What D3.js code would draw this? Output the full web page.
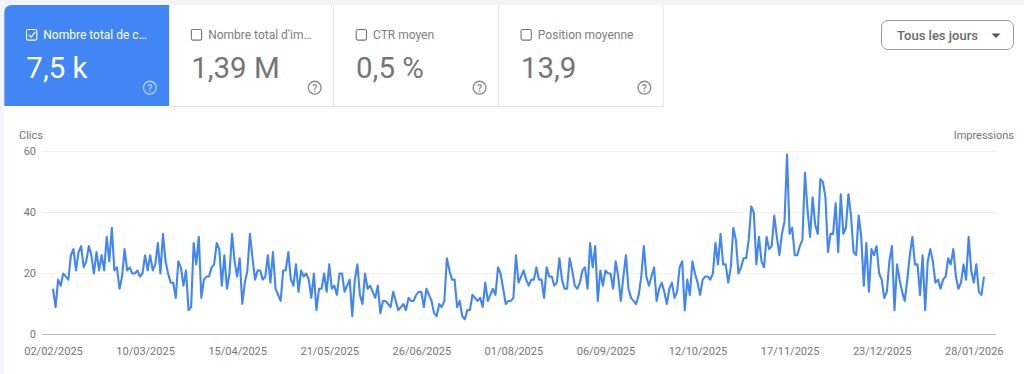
<!DOCTYPE html>
<html lang="fr">
<head>
<meta charset="utf-8">
<title>Performances</title>
<script src="https://cdn.jsdelivr.net/npm/d3@7/dist/d3.min.js"></script>
<style>
  html, body { margin: 0; padding: 0; background: #fff; }
  svg { display: block; font-family: Roboto, sans-serif; }
  .tick text { font-family: Roboto, sans-serif; }
</style>
</head>
<body>
<div id="chart"></div>
<script>
// Daily clicks, from 02/02/2025 to 01/02/2026
const startDate = '2025-02-02';
const clicks = [
  15,9,18,16,20,19,18,26,28,21,27,29,22,24,29,26,20,27,21,26,21,32,24,35,21,22,15,19,28,21,
  22,20,20,21,19,20,26,21,26,21,23,30,20,33,24,20,17,17,12,24,22,16,21,8,9,30,23,32,12,18,
  19,19,22,23,30,28,16,26,15,20,33,24,19,25,10,17,21,33,25,18,21,21,18,19,26,17,27,15,13,11,
  21,21,27,18,16,23,14,21,19,20,18,12,20,8,15,15,20,14,23,15,16,13,20,20,14,16,18,6,18,23,
  13,10,20,15,16,14,12,16,7,11,11,10,9,14,11,8,9,10,8,12,11,11,13,14,14,9,15,13,11,7,
  6,10,9,11,25,21,18,18,9,11,6,5,8,8,13,12,11,12,9,17,11,13,15,13,22,20,15,10,11,11,
  12,26,17,19,21,18,16,18,18,22,18,18,12,22,19,19,16,17,25,18,15,15,25,21,16,15,17,21,22,15,
  30,22,29,11,21,16,21,20,20,15,24,19,11,19,26,15,12,11,10,13,19,29,19,16,19,22,11,15,17,14,
  10,15,17,12,14,22,24,8,18,13,24,20,17,13,18,19,19,18,20,30,23,33,23,23,17,22,35,31,20,22,
  25,25,31,42,40,23,32,24,22,32,28,29,39,32,26,33,37,59,33,35,26,26,29,31,53,41,32,45,36,33,
  51,50,45,27,33,33,43,27,46,33,35,46,39,27,26,39,32,16,30,14,28,26,29,20,18,12,14,24,29,8,
  23,18,14,11,18,26,32,23,23,13,26,8,24,28,24,17,18,15,18,19,25,23,28,19,15,17,23,18,32,21,
  17,23,14,13,19
];
const yTickValues = [0, 20, 40, 60];
const xTickLabels = ['02/02/2025','10/03/2025','15/04/2025','21/05/2025','26/06/2025','01/08/2025','06/09/2025','12/10/2025','17/11/2025','23/12/2025','28/01/2026'];
const cardTitles = ['Nombre total de c…', "Nombre total d'im…", 'CTR moyen', 'Position moyenne'];
const cardValues = ['7,5 k', '1,39 M', '0,5 %', '13,9'];

const W = 1024, H = 374;
const BLUE = '#4285f4';
const GREY = '#757575';

const parseTick = d3.utcParse('%d/%m/%Y');
const dayMs = 86400000;
const t0 = d3.utcParse('%Y-%m-%d')(startDate).getTime();
const dates = clicks.map((_, i) => new Date(t0 + i * dayMs));

const svg = d3.select('#chart').append('svg').attr('width', W).attr('height', H);

// page background + white panel
svg.append('rect').attr('width', W).attr('height', H).attr('fill', '#f1f4f8');
svg.append('path')
  .attr('d', `M4,${H} V13 Q4,5 12,5 H${W} V${H} Z`)
  .attr('fill', '#fff');

// ---- metric cards ----
const cardX = d3.scaleBand().domain(d3.range(4)).range([4.3, 663.7]);
const cardH = 101, cardY = 5;

const cards = svg.selectAll('g.card').data(cardTitles).join('g')
  .attr('class', 'card')
  .attr('transform', (d, i) => `translate(${cardX(i)},${cardY})`);

cards.each(function(title, i) {
  const g = d3.select(this);
  const on = i === 0;
  const w = cardX.bandwidth();
  const textCol = on ? '#fff' : '#7d7d7d';

  if (on) {
    g.append('path')
      .attr('d', `M0,${cardH} V8 Q0,0 8,0 H${w} V${cardH} Z`)
      .attr('fill', BLUE);
  } else {
    g.append('line').attr('x1', 0).attr('x2', w).attr('y1', cardH + 0.5).attr('y2', cardH + 0.5).attr('stroke', '#e3e3e3');
    g.append('line').attr('x1', w - 0.5).attr('x2', w - 0.5).attr('y1', 0).attr('y2', cardH).attr('stroke', '#e3e3e3');
  }

  // checkbox
  g.append('rect')
    .attr('x', 22.2).attr('y', 24.5).attr('width', 10.3).attr('height', 10.6).attr('rx', 1.5)
    .attr('fill', 'none').attr('stroke', on ? '#fff' : GREY).attr('stroke-width', 1.1);
  if (on) {
    g.append('path').attr('d', 'M24.6,29.8 L26.9,32.2 L30.9,26.9')
      .attr('fill', 'none').attr('stroke', '#fff').attr('stroke-width', 1.2);
  }

  g.append('text').attr('x', 39).attr('y', 34)
    .attr('font-size', 12)
    .attr('fill', textCol).text(title);

  g.append('text').attr('x', 22).attr('y', 73)
    .attr('font-size', 29.5).attr('fill', on ? '#fff' : GREY).text(cardValues[i]);

  // help icon
  const help = g.append('g').attr('transform', `translate(${w - 19.3},${82.7})`).attr('opacity', on ? 0.6 : 1);
  help.append('circle').attr('r', 6.4).attr('fill', 'none').attr('stroke', on ? '#fff' : '#8a8a8a').attr('stroke-width', 1.4);
  help.append('text').attr('text-anchor', 'middle').attr('y', 3.8)
    .attr('font-size', 10.5).attr('font-weight', 500).attr('fill', on ? '#fff' : '#8a8a8a').text('?');
});

// ---- dropdown ----
const dd = svg.append('g').attr('transform', 'translate(881.5,20.5)');
dd.append('rect').attr('width', 132).attr('height', 29).attr('rx', 6.5)
  .attr('fill', '#fff').attr('stroke', '#9a9a9a');
dd.append('text').attr('x', 15.5).attr('y', 19).attr('font-size', 13).attr('font-weight', 500)
  .attr('fill', '#666a6e').text('Tous les jours');
dd.append('path').attr('d', 'M110,13 h9 l-4.5,4.5 Z').attr('fill', '#555');

// ---- chart ----
const x = d3.scaleUtc().domain([dates[0], dates[dates.length - 1]]).range([53, 984]);
const y = d3.scaleLinear().domain([0, 60]).range([334.5, 151.5]);

const yAxis = d3.axisLeft(y).tickValues(yTickValues).tickSize(0).tickPadding(6);
const yG = svg.append('g').attr('transform', 'translate(42,-0.8)').call(yAxis);
yG.select('.domain').remove();
yG.selectAll('text').attr('font-size', 11).attr('fill', GREY);

svg.append('g').selectAll('line').data(yTickValues).join('line')
  .attr('x1', 42).attr('x2', 996)
  .attr('y1', d => y(d)).attr('y2', d => y(d))
  .attr('stroke', d => d === 0 ? '#bdbdbd' : '#f0f0f0');

const xAxis = d3.axisBottom(x)
  .tickValues(xTickLabels.map(parseTick))
  .tickFormat(d3.utcFormat('%d/%m/%Y'))
  .tickSize(0).tickPadding(13);
const xG = svg.append('g').attr('transform', 'translate(0,334.5)').call(xAxis);
xG.select('.domain').remove();
xG.selectAll('text').attr('font-size', 11).attr('fill', GREY);

const line = d3.line().x((d, i) => x(dates[i])).y(d => y(d));
svg.append('path').datum(clicks)
  .attr('d', line)
  .attr('fill', 'none')
  .attr('stroke', BLUE)
  .attr('stroke-width', 2.1)
  .attr('stroke-linejoin', 'round');

svg.append('text').attr('x', 19).attr('y', 139).attr('font-size', 11).attr('fill', GREY).text('Clics');
svg.append('text').attr('x', 1014).attr('y', 139).attr('text-anchor', 'end').attr('font-size', 11).attr('fill', GREY).text('Impressions');
</script>
</body>
</html>
